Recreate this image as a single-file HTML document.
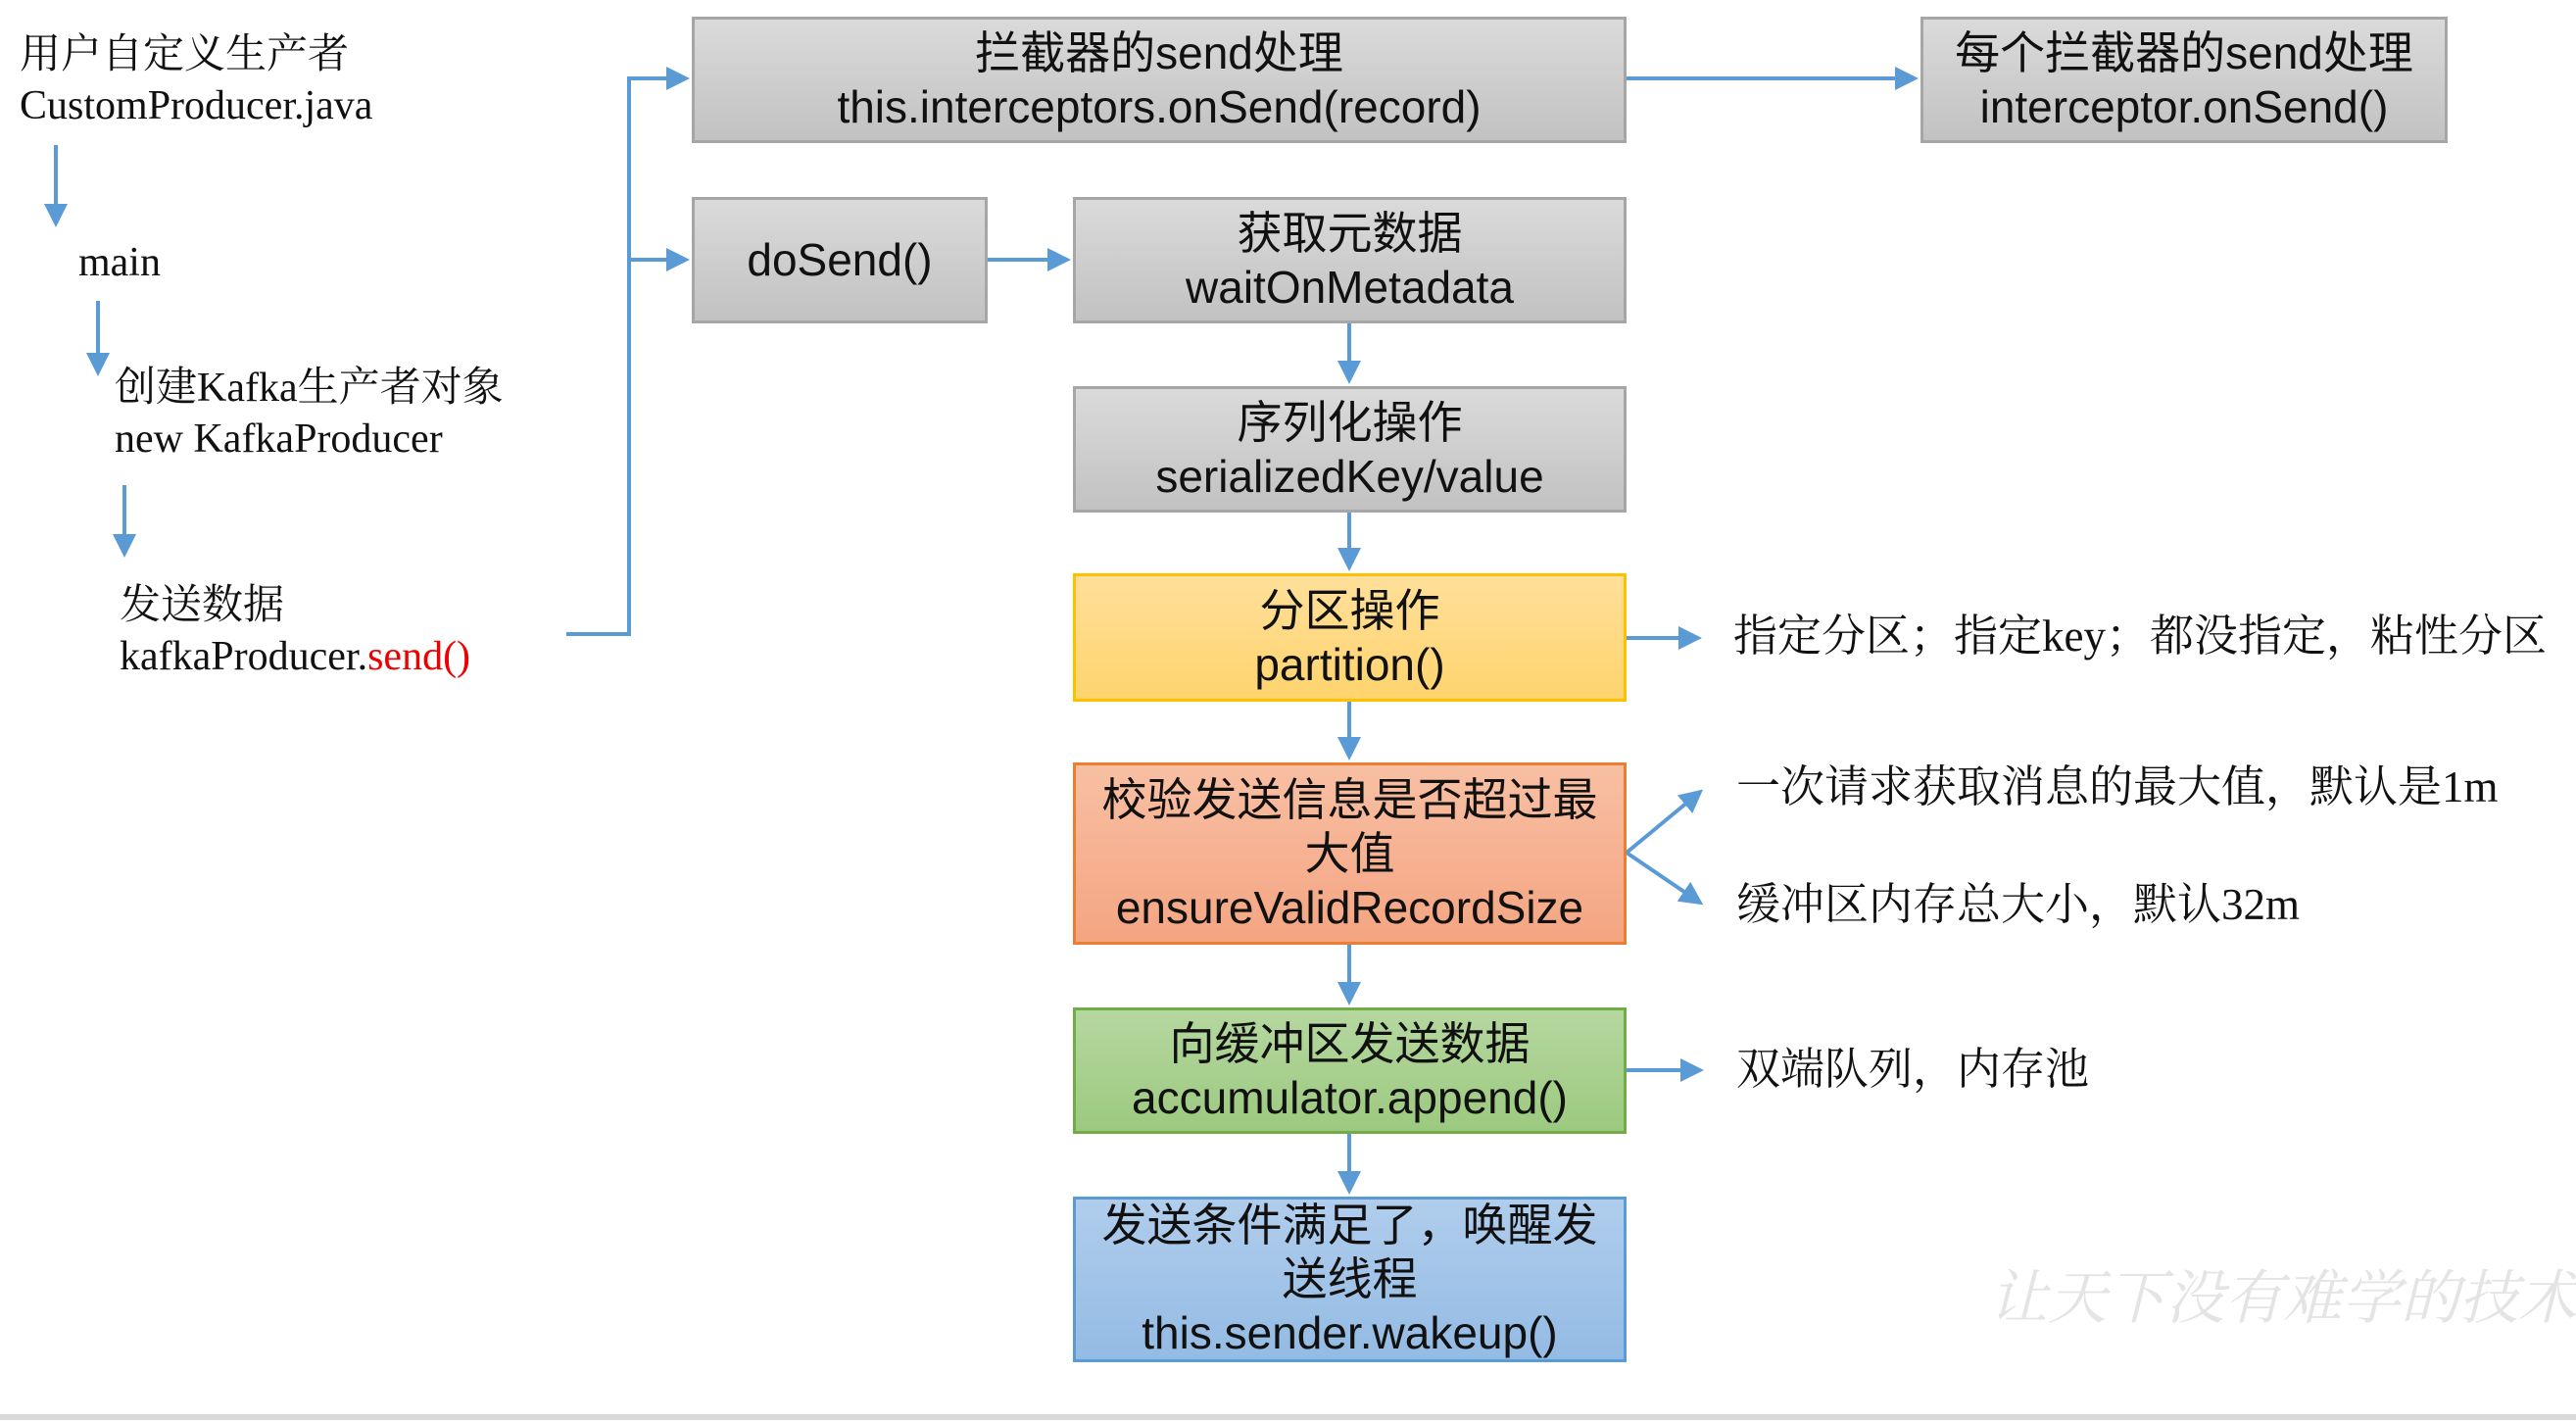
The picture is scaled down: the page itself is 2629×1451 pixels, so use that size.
<!DOCTYPE html>
<html><head><meta charset="utf-8"><style>
body{margin:0;width:2629px;height:1451px;background:#fff;position:relative;overflow:hidden}
.b{position:absolute;box-sizing:border-box;display:flex;flex-direction:column;justify-content:center;align-items:center;text-align:center;font-family:"Liberation Sans","Noto Sans CJK SC",sans-serif;font-size:46px;line-height:55px;color:#111;border:3px solid #a6a6a6;background:linear-gradient(#dadada,#c2c2c2)}
.t{position:absolute;font-family:"Liberation Serif","Noto Serif CJK SC",serif;font-size:42px;line-height:52px;color:#111;white-space:nowrap}
.r{font-size:45px}
svg{position:absolute;left:0;top:0}
</style></head><body>
<svg width="2629" height="1451">
<defs><marker id="a" markerWidth="6" markerHeight="6" refX="5" refY="3" orient="auto" markerUnits="strokeWidth"><path d="M0,0 L6,3 L0,6 z" fill="#5b9bd5"/></marker></defs>
<g stroke="#5b9bd5" stroke-width="4" fill="none">
<line x1="57" y1="148" x2="57" y2="228" marker-end="url(#a)"/>
<line x1="100" y1="307" x2="100" y2="380" marker-end="url(#a)"/>
<line x1="127" y1="495" x2="127" y2="565" marker-end="url(#a)"/>
<polyline points="578,647 642,647 642,80 700,80" marker-end="url(#a)"/>
<polyline points="642,265 700,265" marker-end="url(#a)"/>
<line x1="1660" y1="80" x2="1954" y2="80" marker-end="url(#a)"/>
<line x1="1008" y1="265" x2="1089" y2="265" marker-end="url(#a)"/>
<line x1="1377" y1="330" x2="1377" y2="388" marker-end="url(#a)"/>
<line x1="1377" y1="523" x2="1377" y2="579" marker-end="url(#a)"/>
<line x1="1377" y1="716" x2="1377" y2="772" marker-end="url(#a)"/>
<line x1="1377" y1="964" x2="1377" y2="1022" marker-end="url(#a)"/>
<line x1="1377" y1="1157" x2="1377" y2="1215" marker-end="url(#a)"/>
<line x1="1660" y1="651" x2="1733" y2="651" marker-end="url(#a)"/>
<line x1="1660" y1="870" x2="1735" y2="808" marker-end="url(#a)"/>
<line x1="1660" y1="870" x2="1735" y2="921" marker-end="url(#a)"/>
<line x1="1660" y1="1092" x2="1735" y2="1092" marker-end="url(#a)"/>
</g>
<line x1="0" y1="1446" x2="2629" y2="1446" stroke="#d9d9d9" stroke-width="6"/>
</svg>
<div class="t" style="left:20px;top:30px">用户自定义生产者<br>CustomProducer.java</div>
<div class="t" style="left:80px;top:242px">main</div>
<div class="t" style="left:117px;top:370px">创建Kafka生产者对象<br>new KafkaProducer</div>
<div class="t" style="left:122px;top:592px">发送数据<br>kafkaProducer.<span style="color:#e00">send()</span></div>
<div class="b" style="left:706px;top:17px;width:954px;height:129px">拦截器的send处理<br>this.interceptors.onSend(record)</div>
<div class="b" style="left:1960px;top:17px;width:538px;height:129px">每个拦截器的send处理<br>interceptor.onSend()</div>
<div class="b" style="left:706px;top:201px;width:302px;height:129px">doSend()</div>
<div class="b" style="left:1095px;top:201px;width:565px;height:129px">获取元数据<br>waitOnMetadata</div>
<div class="b" style="left:1095px;top:394px;width:565px;height:129px">序列化操作<br>serializedKey/value</div>
<div class="b" style="left:1095px;top:585px;width:565px;height:131px;border-color:#ffc000;background:linear-gradient(#ffdf9a,#ffd46e)">分区操作<br>partition()</div>
<div class="b" style="left:1095px;top:778px;width:565px;height:186px;border-color:#ed7d31;background:linear-gradient(#f8bfa3,#f4a582)">校验发送信息是否超过最<br>大值<br>ensureValidRecordSize</div>
<div class="b" style="left:1095px;top:1028px;width:565px;height:129px;border-color:#70ad47;background:linear-gradient(#b5d7a0,#9cc97f)">向缓冲区发送数据<br>accumulator.append()</div>
<div class="b" style="left:1095px;top:1221px;width:565px;height:169px;border-color:#5b9bd5;background:linear-gradient(#b0cdec,#94bbe4)">发送条件满足了，唤醒发<br>送线程<br>this.sender.wakeup()</div>
<div class="t r" style="left:1769px;top:623px">指定分区；指定key；都没指定，粘性分区</div>
<div class="t r" style="left:1772px;top:777px">一次请求获取消息的最大值，默认是1m</div>
<div class="t r" style="left:1772px;top:897px">缓冲区内存总大小，默认32m</div>
<div class="t r" style="left:1772px;top:1065px">双端队列，内存池</div>
<div class="t" style="left:2030px;top:1290px;font-size:60px;line-height:70px;color:#e4e4e4;font-style:italic">让天下没有难学的技术</div>
</body></html>
